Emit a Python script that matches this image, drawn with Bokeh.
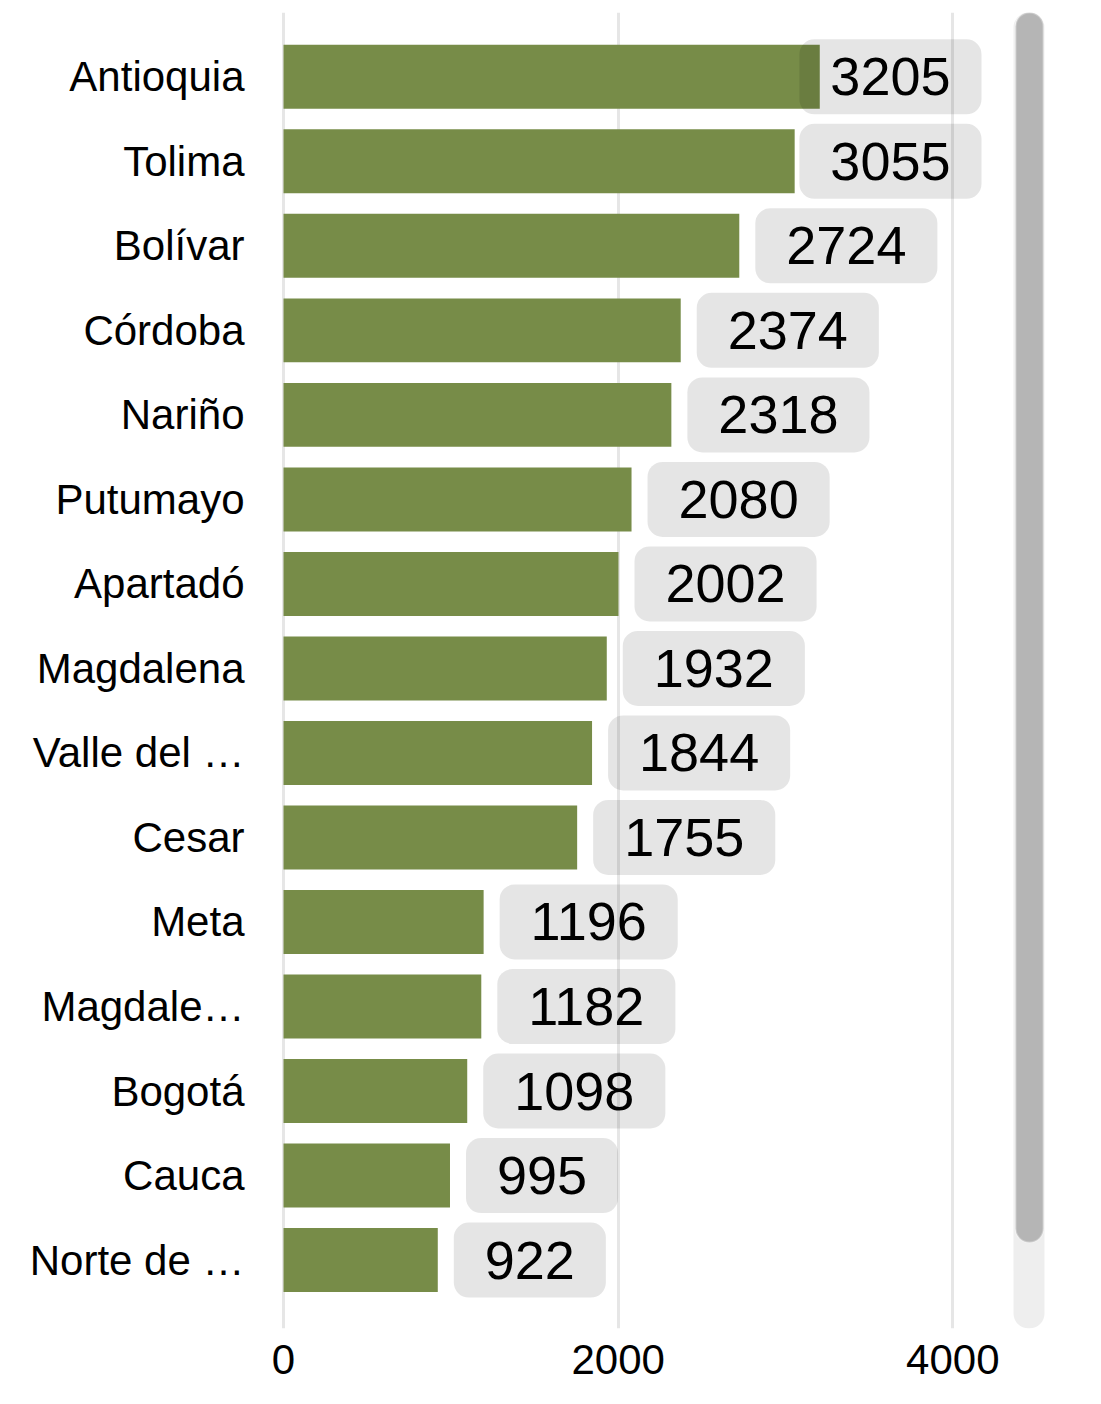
from bokeh.plotting import figure
from bokeh.models import Range1d, FixedTicker, BoxAnnotation, ColumnDataSource
from bokeh.core.properties import value
from bokeh.embed import file_html
from bokeh.resources import INLINE

categories = ["Antioquia", "Tolima", "Bolívar", "Córdoba", "Nariño", "Putumayo",
              "Apartadó", "Magdalena", "Valle del …", "Cesar", "Meta", "Magdale…",
              "Bogotá", "Cauca", "Norte de …"]
values = [3205, 3055, 2724, 2374, 2318, 2080, 2002, 1932, 1844, 1755, 1196, 1182,
          1098, 995, 922]
x_ticks = [0, 2000, 4000]

FONT = "Liberation Sans"
BAR_COLOR = "#778c48"

W, H = 1085, 1398
MB_L, MB_R, MB_T, MB_B = 280, 35, 12, 70
X0, X1 = -18, 4584
frame_w = W - MB_L - MB_R
px_per_unit = frame_w / (X1 - X0)

idx = list(range(len(categories)))

p = figure(width=W, height=H, output_backend="svg", toolbar_location=None,
           x_range=Range1d(X0, X1), y_range=Range1d(14.81, -0.761),
           min_border_left=MB_L, min_border_right=MB_R,
           min_border_top=MB_T, min_border_bottom=MB_B)
p.outline_line_color = None
p.background_fill_color = "white"
p.border_fill_color = "white"

p.xgrid.grid_line_color = "#e6e6e6"
p.xgrid.grid_line_width = 3
p.ygrid.grid_line_color = None

p.xaxis.ticker = FixedTicker(ticks=x_ticks)
p.yaxis.ticker = FixedTicker(ticks=idx)
p.yaxis.major_label_overrides = {i: c for i, c in zip(idx, categories)}
for ax in (p.xaxis[0], p.yaxis[0]):
    ax.axis_line_color = None
    ax.major_tick_line_color = None
    ax.minor_tick_line_color = None
    ax.major_tick_out = 0
    ax.major_tick_in = 0
    ax.major_label_text_font = FONT
    ax.major_label_text_font_size = "42px"
    ax.major_label_text_color = "black"
p.yaxis.major_label_standoff = 36
p.xaxis.major_label_standoff = 16

src = ColumnDataSource(dict(y=idx, v=values, cat=categories))
p.hbar(y="y", left=0, right="v", height=0.757, source=src,
       fill_color=BAR_COLOR, line_color=None)

# value labels with rounded grey boxes
PAD_H, PAD_V = 31, 19
GAP = 16
MAX_RIGHT_PX = 981 - MB_L  # frame-relative pixel of rightmost box edge
x_max_data = X0 + MAX_RIGHT_PX / px_per_unit

free = dict(x=[], y=[], t=[])
clamped = dict(x=[], y=[], t=[])
for i, v in zip(idx, values):
    t = str(v)
    bw = len(t) * 0.556 * 54 + 2 * PAD_H
    end_px = (v - X0) * px_per_unit + GAP + bw
    if end_px > MAX_RIGHT_PX:
        clamped["x"].append(x_max_data); clamped["y"].append(i); clamped["t"].append(t)
    else:
        free["x"].append(v); free["y"].append(i); free["t"].append(t)

common = dict(text_font=value(FONT), text_font_size="54px", text_color="black",
              text_baseline="middle", background_fill_color="black",
              background_fill_alpha=0.1, border_radius=15,
              padding=dict(left=PAD_H, right=PAD_H, top=PAD_V, bottom=PAD_V))
p.text(x="x", y="y", text="t", source=ColumnDataSource(free),
       text_align="left", x_offset=GAP, **common)
p.text(x="x", y="y", text="t", source=ColumnDataSource(clamped),
       text_align="right", **common)

# scrollbar decoration
track = BoxAnnotation(left=1013, right=1044, top=12, bottom=1328,
                      left_units="canvas", right_units="canvas",
                      top_units="canvas", bottom_units="canvas",
                      fill_color="#eeeeee", fill_alpha=1, line_color=None,
                      border_radius=15)
thumb = BoxAnnotation(left=1015, right=1043, top=12, bottom=1242,
                      left_units="canvas", right_units="canvas",
                      top_units="canvas", bottom_units="canvas",
                      fill_color="#b5b5b5", fill_alpha=1, line_color="white",
                      line_width=2, border_radius=14)
p.add_layout(track)
p.add_layout(thumb)

open("out.html", "w").write(file_html(p, INLINE))
